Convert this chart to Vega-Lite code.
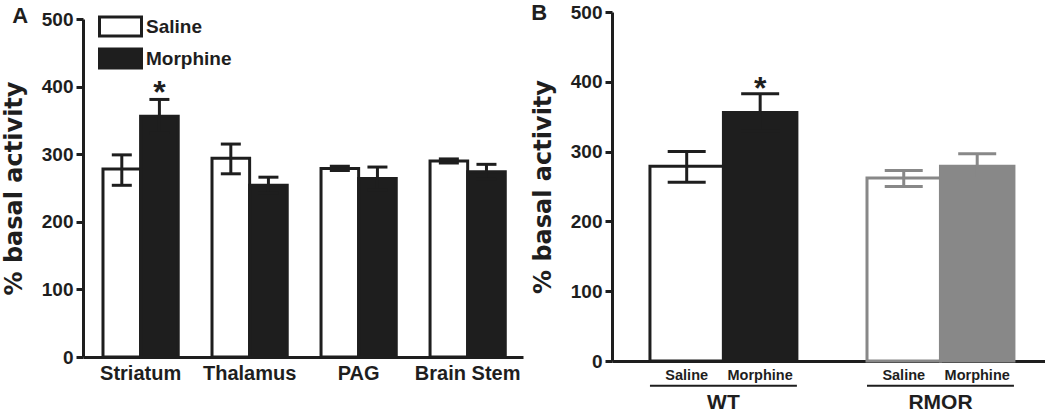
{
  "$schema": "https://vega.github.io/schema/vega-lite/v6.json",
  "padding": {"left": 2, "top": 1, "right": 0, "bottom": 0},
  "spacing": 8,
  "resolve": {
    "scale": {"x": "independent", "y": "independent", "xOffset": "independent", "fill": "independent", "stroke": "independent", "color": "independent"},
    "legend": {"fill": "independent", "stroke": "independent", "color": "independent"}
  },
  "config": {
    "view": {"stroke": null},
    "font": "Liberation Sans",
    "axis": {
      "labelFont": "Liberation Sans",
      "labelFontWeight": "bold",
      "labelColor": "#1e1e1e",
      "titleColor": "#1e1e1e",
      "titleFont": "DejaVu Sans",
      "domainColor": "#1e1e1e",
      "tickColor": "#1e1e1e",
      "grid": false,
      "domainWidth": 3,
      "tickWidth": 3
    }
  },
  "datasets": {
    "regions": [
      {"region": "Striatum", "treatment": "Saline", "mean": 278, "lower": 254, "upper": 299, "sig": ""},
      {"region": "Striatum", "treatment": "Morphine", "mean": 356, "lower": 332, "upper": 381, "sig": "*"},
      {"region": "Thalamus", "treatment": "Saline", "mean": 294, "lower": 271, "upper": 315, "sig": ""},
      {"region": "Thalamus", "treatment": "Morphine", "mean": 254, "lower": 242, "upper": 266, "sig": ""},
      {"region": "PAG", "treatment": "Saline", "mean": 279, "lower": 276, "upper": 282, "sig": ""},
      {"region": "PAG", "treatment": "Morphine", "mean": 264, "lower": 247, "upper": 281, "sig": ""},
      {"region": "Brain Stem", "treatment": "Saline", "mean": 290, "lower": 287, "upper": 293, "sig": ""},
      {"region": "Brain Stem", "treatment": "Morphine", "mean": 274, "lower": 263, "upper": 285, "sig": ""}
    ],
    "genotypes": [
      {"group": "WT", "treatment": "Saline", "series": "WT Saline", "mean": 279, "lower": 256, "upper": 300, "sig": ""},
      {"group": "WT", "treatment": "Morphine", "series": "WT Morphine", "mean": 356, "lower": 330, "upper": 383, "sig": "*"},
      {"group": "RMOR", "treatment": "Saline", "series": "RMOR Saline", "mean": 262, "lower": 250, "upper": 273, "sig": ""},
      {"group": "RMOR", "treatment": "Morphine", "series": "RMOR Morphine", "mean": 279, "lower": 261, "upper": 297, "sig": ""}
    ],
    "groups": [
      {"group": "WT"},
      {"group": "RMOR"}
    ]
  },
  "hconcat": [
    {
      "width": 440,
      "height": 345,
      "title": {"text": "A", "anchor": "start", "frame": "bounds", "fontSize": 22, "fontWeight": "bold", "baseline": "top", "offset": -18, "dx": 10, "color": "#1e1e1e", "font": "Liberation Sans"},
      "data": {"name": "regions"},
      "encoding": {
        "x": {
          "field": "region", "type": "nominal",
          "sort": ["Striatum", "Thalamus", "PAG", "Brain Stem"],
          "scale": {"paddingInner": 0.31, "paddingOuter": 0.173, "align": 0.53},
          "axis": {"title": null, "labelAngle": 0, "ticks": false, "tickSize": 0, "labelPadding": 6, "labelFontSize": 20}
        },
        "xOffset": {
          "field": "treatment", "type": "nominal",
          "sort": ["Saline", "Morphine"],
          "scale": {"paddingInner": 0, "paddingOuter": 0}
        }
      },
      "layer": [
        {
          "mark": {"type": "bar", "strokeWidth": 3},
          "encoding": {
            "y": {
              "field": "mean", "type": "quantitative",
              "scale": {"domain": [0, 500], "nice": false, "range": [345, 7]},
              "axis": {"title": "% basal activity", "values": [0, 100, 200, 300, 400, 500], "tickSize": 7, "labelPadding": 3, "labelFontSize": 19, "titleFontSize": 24, "titleFontWeight": "bold", "titlePadding": 15}
            },
            "fill": {
              "field": "treatment", "type": "nominal",
              "scale": {"domain": ["Saline", "Morphine"], "range": ["#ffffff", "#1e1e1e"]},
              "legend": {
                "title": null, "orient": "none", "legendX": 21, "legendY": -2,
                "symbolType": "M-1.4,-0.63H1.4V0.63H-1.4Z", "symbolSize": 900,
                "symbolStrokeColor": "#1e1e1e", "symbolStrokeWidth": 3, "symbolOpacity": 1,
                "labelFontSize": 19, "labelFontWeight": "bold", "labelColor": "#1e1e1e", "labelFont": "Liberation Sans",
                "labelOffset": 9, "rowPadding": -2, "padding": 0
              }
            },
            "stroke": {
              "field": "treatment", "type": "nominal",
              "scale": {"domain": ["Saline", "Morphine"], "range": ["#1e1e1e", "#1e1e1e"]},
              "legend": null
            }
          }
        },
        {
          "mark": {"type": "rule", "strokeWidth": 3, "color": "#1e1e1e"},
          "encoding": {
            "y": {"field": "lower", "type": "quantitative"},
            "y2": {"field": "upper"}
          }
        },
        {
          "mark": {"type": "tick", "thickness": 3, "size": 20, "color": "#1e1e1e", "opacity": 1},
          "encoding": {"y": {"field": "upper", "type": "quantitative"}}
        },
        {
          "mark": {"type": "tick", "thickness": 3, "size": 20, "color": "#1e1e1e", "opacity": 1},
          "encoding": {"y": {"field": "lower", "type": "quantitative"}}
        },
        {
          "mark": {"type": "text", "fontSize": 32, "fontWeight": "bold", "baseline": "alphabetic", "dy": 4, "color": "#1e1e1e", "font": "Liberation Sans"},
          "encoding": {
            "y": {"field": "upper", "type": "quantitative"},
            "text": {"field": "sig"}
          }
        }
      ]
    },
    {
      "width": 433,
      "height": 349,
      "title": {"text": "B", "anchor": "start", "frame": "bounds", "fontSize": 22, "fontWeight": "bold", "baseline": "top", "offset": -21.5, "color": "#1e1e1e", "font": "Liberation Sans"},
      "layer": [
        {
          "data": {"name": "genotypes"},
          "mark": {"type": "bar", "strokeWidth": 3},
          "encoding": {
            "x": {
              "field": "group", "type": "nominal", "sort": ["WT", "RMOR"],
              "scale": {"paddingInner": 0.323, "paddingOuter": 0.159, "align": 0.55},
              "axis": {"title": null, "labelAngle": 0, "ticks": false, "tickSize": 0, "labelPadding": 30, "labelFontSize": 21}
            },
            "xOffset": {"field": "treatment", "type": "nominal", "sort": ["Saline", "Morphine"], "scale": {"paddingInner": 0, "paddingOuter": 0}},
            "y": {
              "field": "mean", "type": "quantitative",
              "scale": {"domain": [0, 500], "nice": false},
              "axis": {"title": "% basal activity", "values": [0, 100, 200, 300, 400, 500], "tickSize": 7, "labelPadding": 3, "labelFontSize": 19, "titleFontSize": 24, "titleFontWeight": "bold", "titlePadding": 15}
            },
            "fill": {
              "field": "series", "type": "nominal",
              "scale": {"domain": ["WT Saline", "WT Morphine", "RMOR Saline", "RMOR Morphine"], "range": ["#ffffff", "#1e1e1e", "#ffffff", "#888888"]},
              "legend": null
            },
            "stroke": {
              "field": "series", "type": "nominal",
              "scale": {"domain": ["WT Saline", "WT Morphine", "RMOR Saline", "RMOR Morphine"], "range": ["#1e1e1e", "#1e1e1e", "#888888", "#888888"]},
              "legend": null
            }
          }
        },
        {
          "data": {"name": "genotypes"},
          "mark": {"type": "rule", "strokeWidth": 3},
          "encoding": {
            "x": {"field": "group", "type": "nominal", "sort": ["WT", "RMOR"]},
            "xOffset": {"field": "treatment", "type": "nominal", "sort": ["Saline", "Morphine"]},
            "y": {"field": "lower", "type": "quantitative"},
            "y2": {"field": "upper"},
            "color": {
              "field": "series", "type": "nominal",
              "scale": {"domain": ["WT Saline", "WT Morphine", "RMOR Saline", "RMOR Morphine"], "range": ["#1e1e1e", "#1e1e1e", "#888888", "#888888"]},
              "legend": null
            }
          }
        },
        {
          "data": {"name": "genotypes"},
          "mark": {"type": "tick", "thickness": 3, "size": 38, "opacity": 1},
          "encoding": {
            "x": {"field": "group", "type": "nominal", "sort": ["WT", "RMOR"]},
            "xOffset": {"field": "treatment", "type": "nominal", "sort": ["Saline", "Morphine"]},
            "y": {"field": "upper", "type": "quantitative"},
            "color": {"field": "series", "type": "nominal", "legend": null}
          }
        },
        {
          "data": {"name": "genotypes"},
          "mark": {"type": "tick", "thickness": 3, "size": 38, "opacity": 1},
          "encoding": {
            "x": {"field": "group", "type": "nominal", "sort": ["WT", "RMOR"]},
            "xOffset": {"field": "treatment", "type": "nominal", "sort": ["Saline", "Morphine"]},
            "y": {"field": "lower", "type": "quantitative"},
            "color": {"field": "series", "type": "nominal", "legend": null}
          }
        },
        {
          "data": {"name": "genotypes"},
          "mark": {"type": "text", "fontSize": 32, "fontWeight": "bold", "baseline": "alphabetic", "dy": 5, "color": "#1e1e1e", "font": "Liberation Sans"},
          "encoding": {
            "x": {"field": "group", "type": "nominal", "sort": ["WT", "RMOR"]},
            "xOffset": {"field": "treatment", "type": "nominal", "sort": ["Saline", "Morphine"]},
            "y": {"field": "upper", "type": "quantitative"},
            "text": {"field": "sig"}
          }
        },
        {
          "data": {"name": "genotypes"},
          "mark": {"type": "text", "fontSize": 14.5, "fontWeight": "bold", "baseline": "middle", "color": "#1e1e1e", "font": "Liberation Sans"},
          "encoding": {
            "x": {"field": "group", "type": "nominal", "sort": ["WT", "RMOR"]},
            "xOffset": {"field": "treatment", "type": "nominal", "sort": ["Saline", "Morphine"]},
            "y": {"datum": -21},
            "text": {"field": "treatment"}
          }
        },
        {
          "data": {"name": "groups"},
          "mark": {"type": "bar", "color": "#1e1e1e"},
          "encoding": {
            "x": {"field": "group", "type": "nominal", "sort": ["WT", "RMOR"]},
            "y": {"datum": -34},
            "y2": {"datum": -37}
          }
        }
      ]
    }
  ]
}
